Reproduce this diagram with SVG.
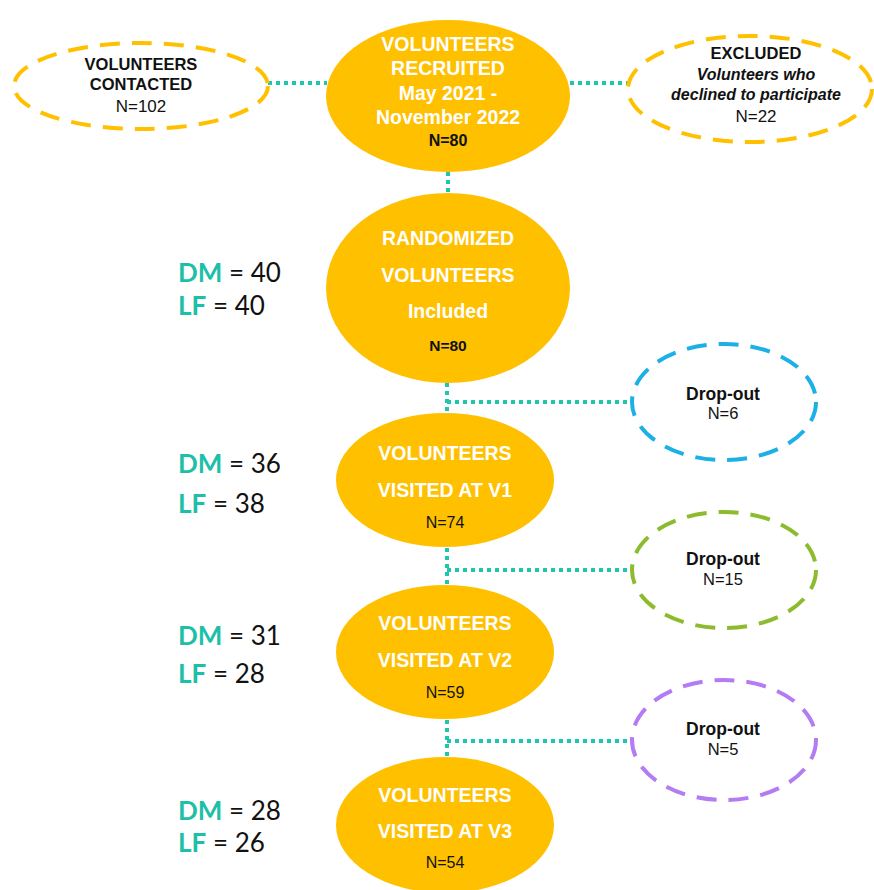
<svg xmlns="http://www.w3.org/2000/svg" width="874" height="890" viewBox="0 0 874 890">
<style>
.solid{fill:#FFC000;}
.dash{fill:#fff;stroke-width:4;stroke-dasharray:20 12;}
.conn{fill:none;stroke:#1EC6AE;stroke-width:4;stroke-dasharray:4 4;}
.w{font-family:"Liberation Sans",Arial,sans-serif;font-weight:bold;fill:#fff;font-size:19.5px;text-anchor:middle;}
.b{font-family:"Liberation Sans",Arial,sans-serif;fill:#111;text-anchor:middle;}
.bb{font-weight:bold;}
.cnt{font-family:Lato,"Open Sans",sans-serif;font-size:26px;fill:#111;}
.tl{fill:#1DBFA8;font-weight:bold;}
</style>
<g id="connectors">
<path class="conn" d="M268 83H327"/>
<path class="conn" d="M570 83H628"/>
<path class="conn" d="M448 172V193"/>
<path class="conn" d="M447 383V412M447 402H632"/>
<path class="conn" d="M447 548V585M447 570H632"/>
<path class="conn" d="M447 720V757M447 741H632"/>
</g>
<g id="contacted">
<ellipse class="dash" stroke="#FFC000" cx="141" cy="86" rx="127" ry="43"/>
<text class="b bb" x="141" y="70" font-size="16.5">VOLUNTEERS</text>
<text class="b bb" x="141" y="90" font-size="16.5">CONTACTED</text>
<text class="b" x="141" y="112" font-size="17">N=102</text>
</g>
<g id="recruited">
<ellipse class="solid" cx="448" cy="96" rx="122" ry="76"/>
<text class="w" x="448" y="51">VOLUNTEERS</text>
<text class="w" x="448" y="75">RECRUITED</text>
<text class="w" x="448" y="100">May 2021 -</text>
<text class="w" x="448" y="124">November 2022</text>
<text class="b bb" x="448" y="146" font-size="16">N=80</text>
</g>
<g id="excluded">
<ellipse class="dash" stroke="#FFC000" cx="750" cy="89" rx="122" ry="53"/>
<text class="b bb" x="756" y="59" font-size="16.5">EXCLUDED</text>
<text class="b bb" x="756" y="80" font-size="16" font-style="italic">Volunteers who</text>
<text class="b bb" x="756" y="100" font-size="16" font-style="italic">declined to participate</text>
<text class="b" x="756" y="122" font-size="17">N=22</text>
</g>
<g id="randomized">
<ellipse class="solid" cx="448" cy="288" rx="122" ry="95"/>
<text class="w" x="448" y="245">RANDOMIZED</text>
<text class="w" x="448" y="282">VOLUNTEERS</text>
<text class="w" x="448" y="318">Included</text>
<text class="b bb" x="448" y="351" font-size="15.5">N=80</text>
</g>
<g id="counts-randomized">
<text class="cnt" x="178" y="282"><tspan class="tl">DM</tspan> = 40</text>
<text class="cnt" x="178" y="315"><tspan class="tl">LF</tspan> = 40</text>
</g>
<g id="dropout1">
<ellipse class="dash" stroke="#1CB0E6" cx="724" cy="402" rx="92" ry="58"/>
<text class="b bb" x="723" y="400" font-size="17.5">Drop-out</text>
<text class="b" x="723" y="419" font-size="16.5">N=6</text>
</g>
<g id="v1">
<ellipse class="solid" cx="445" cy="480" rx="109" ry="67"/>
<text class="w" x="445" y="460">VOLUNTEERS</text>
<text class="w" x="445" y="497">VISITED AT V1</text>
<text class="b" x="445" y="528" font-size="16">N=74</text>
</g>
<g id="counts-v1">
<text class="cnt" x="178" y="473"><tspan class="tl">DM</tspan> = 36</text>
<text class="cnt" x="178" y="513"><tspan class="tl">LF</tspan> = 38</text>
</g>
<g id="dropout2">
<ellipse class="dash" stroke="#8DBB2E" cx="724" cy="570" rx="92" ry="58"/>
<text class="b bb" x="723" y="565" font-size="17.5">Drop-out</text>
<text class="b" x="723" y="585" font-size="16.5">N=15</text>
</g>
<g id="v2">
<ellipse class="solid" cx="445" cy="652" rx="109" ry="67"/>
<text class="w" x="445" y="630">VOLUNTEERS</text>
<text class="w" x="445" y="667">VISITED AT V2</text>
<text class="b" x="445" y="698" font-size="16">N=59</text>
</g>
<g id="counts-v2">
<text class="cnt" x="178" y="645"><tspan class="tl">DM</tspan> = 31</text>
<text class="cnt" x="178" y="683"><tspan class="tl">LF</tspan> = 28</text>
</g>
<g id="dropout3">
<ellipse class="dash" stroke="#B47CF2" cx="724" cy="740" rx="92" ry="60"/>
<text class="b bb" x="723" y="735" font-size="17.5">Drop-out</text>
<text class="b" x="723" y="755" font-size="16.5">N=5</text>
</g>
<g id="v3">
<ellipse class="solid" cx="445" cy="825" rx="109" ry="68"/>
<text class="w" x="445" y="802">VOLUNTEERS</text>
<text class="w" x="445" y="838">VISITED AT V3</text>
<text class="b" x="445" y="868" font-size="16">N=54</text>
</g>
<g id="counts-v3">
<text class="cnt" x="178" y="820"><tspan class="tl">DM</tspan> = 28</text>
<text class="cnt" x="178" y="852"><tspan class="tl">LF</tspan> = 26</text>
</g>
</svg>
